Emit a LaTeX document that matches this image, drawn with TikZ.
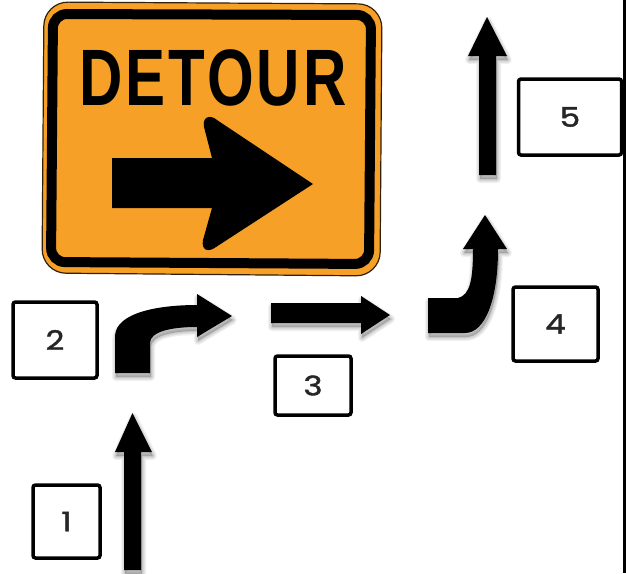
\documentclass[tikz,border=0pt]{standalone}
\usepackage{fontspec}
\setmainfont{Poppins}
\newfontfamily\signfont{Liberation Sans}[LetterSpace=5]
\newfontfamily\digitfont{Poppins}[FakeBold=1.5,FakeStretch=1.2]
\definecolor{signorange}{HTML}{F7A028}
\newcommand\softshape[1]{%
  \foreach \w in {8,6,4,2}{\path[shift={(1,4)},fill=black,draw=black,line width=\w pt,opacity=.05,line join=round] #1;}
  \fill[black] #1;}
\tikzset{
  numbox/.style={draw=black,line width=3.5pt,fill=white,rounded corners=2.5pt,minimum width=#1,inner sep=0pt,font=\digitfont\fontsize{27}{27}\selectfont,text=black!85},
}
\newcommand\dropdigit[1]{\raisebox{-5pt}{#1}}
\begin{document}
\begin{tikzpicture}[x=1pt,y=-1pt]
\useasboundingbox (0,0) rectangle (626,573);
\fill[white] (0,0) rectangle (626,573);
% sign
\path[fill=signorange,draw=black!80!signorange,line width=1.2pt,rounded corners=24pt]
  (44,2) -- (382,4) -- (380,276) -- (42,273) -- cycle;
\path[fill=signorange,draw=black,line width=10pt,rounded corners=14pt]
  (53,14) -- (371,15) -- (369,264) -- (51,262) -- cycle;
\node[font=\signfont\bfseries\fontsize{80}{80}\selectfont,text=black,inner sep=0pt,xscale=.75,anchor=center] (detour) at (213,78) {DETOUR};
\fill[black] (112,158) -- (212,158) -- (204,127) .. controls (202,117) and (210,114) .. (217,120) -- (313,184) -- (216,247) .. controls (208,253) and (201,250) .. (203,240) -- (212,208) -- (112,208) -- cycle;
% arrows
\softshape{(124,570) -- (124,452) -- (115,452) -- (132.5,413) -- (152,452) -- (141,452) -- (141,570) -- cycle}
\softshape{(115,373) -- (115,336) .. controls (116,312) and (160,305) .. (197,305) -- (197,294) -- (232,316) -- (197,337) -- (197,327) .. controls (170,327) and (150,332) .. (150,343) -- (150,373) -- cycle}
\softshape{(271,303) -- (361,303) -- (361,296) -- (390,315) -- (361,334) -- (361,323) -- (271,323) -- cycle}
\softshape{(428,298) -- (458,298) .. controls (470,295) and (473,280) .. (473,249) -- (463,249) -- (485,215) -- (507,249) -- (498,249) .. controls (498,300) and (485,333) .. (465,333) -- (428,333) -- cycle}
\softshape{(479,175) -- (479,56) -- (468,56) -- (487,17) -- (507,56) -- (496,56) -- (496,175) -- cycle}
% right rule
\draw[black,line width=3pt] (624,0) -- (624,573);
% numbered boxes
\node[numbox=84pt,minimum height=76pt] (b2) at (55,340) {\dropdigit{2}};
\node[numbox=76pt,minimum height=59pt] (b3) at (313,385.5) {\dropdigit{3}};
\node[numbox=67pt,minimum height=73pt] (b1) at (66.5,521.5) {\dropdigit{1}};
\node[numbox=103pt,minimum height=76pt] (b5) at (570,117) {\dropdigit{5}};
\node[numbox=85pt,minimum height=74pt] (b4) at (555.5,324) {\dropdigit{4}};
\end{tikzpicture}
\end{document}
